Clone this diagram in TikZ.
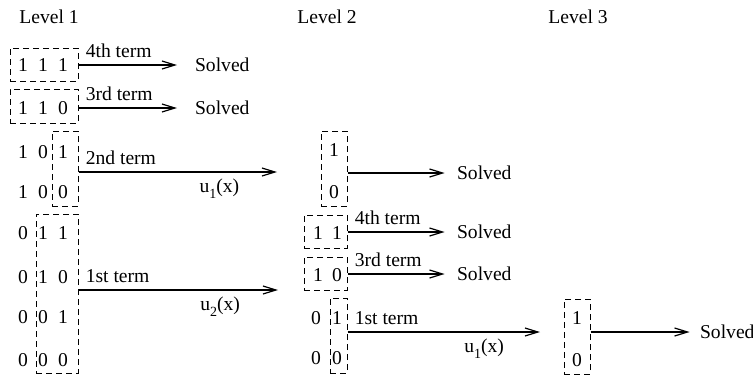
\documentclass[tikz,border=0pt]{standalone}
\usepackage{fontspec}
\setmainfont{Liberation Serif}
\usetikzlibrary{arrows.meta,fit,positioning}
\newcommand{\usub}[1]{u\raisebox{-0.6ex}{\fontsize{7}{8}\selectfont #1}(x)}
\tikzset{every node/.style={font=\fontsize{9.8}{11}\selectfont},
    grp/.style={draw,dash pattern=on 3pt off 2pt,line width=0.5pt,inner sep=0pt},
    arr/.style={line width=0.6pt,-{Straight Barb[length=6.5pt,width=4pt]}},
    lbl/.style={pos=0,above right},
    fn/.style={pos=0.71,below},
    solved/.style={anchor=west}}

\begin{document}
\begin{tikzpicture}[x=0.5pt,y=-0.5pt]
            \useasboundingbox (0,0) rectangle (753,377);
            \node (lv1) at (49,17) {Level 1};
            \node (lv2) at (327,17) {Level 2};
            \node (lv3) at (578,17) {Level 3};
            \foreach \r/\y/\a/\b/\c in {1/65/1/1/1,2/108/1/1/0,3/152/1/0/1,4/192/1/0/0,
                5/233/0/1/1,6/277/0/1/0,7/317/0/0/1,8/360/0/0/0} {
                \node (a\r) at (23,\y) {\a};
                \node (b\r) at (43,\y) {\b};
                \node (c\r) at (63,\y) {\c};
            }
            \node[grp,fit={(10,48) (78,81)}] (b111) {};
            \node[grp,fit={(10,89) (78,123)}] (b110) {};
            \node[grp,fit={(52,131) (78,206)}] (b1xx) {};
            \node[grp,fit={(36,214) (78,373)}] (b0xx) {};
            \node[solved] (s1) at (188,65) {Solved};
            \node[solved] (s2) at (188,108) {Solved};
            \coordinate (e2) at (277,172);
            \coordinate (e1) at (278,290);
            \draw[arr,shorten >=5.5pt] (b111.east |- s1) -- (s1.west) node[lbl]{4th term};
            \draw[arr,shorten >=5.5pt] (b110.east |- s2) -- (s2.west) node[lbl]{3rd term};
            \draw[arr] (b1xx.east |- e2) -- (e2) node[lbl]{2nd term} node[fn]{\usub{1}};
            \draw[arr] (b0xx.east |- e1) -- (e1) node[lbl]{1st term} node[fn]{\usub{2}};
            \node (p1) at (334,150) {1};
            \node (p0) at (334,192) {0};
            \node (q1) at (318,233) {1};
            \node (q2) at (337,233) {1};
            \node (r1) at (318,275) {1};
            \node (r2) at (337,275) {0};
            \node (t1) at (316,318) {0};
            \node (t2) at (337,318) {1};
            \node (u1) at (316,358) {0};
            \node (u2) at (337,358) {0};
            \node[grp,fit={(321,131) (347,206)}] (c10) {};
            \node[grp,fit={(304,215) (347,248)}] (c11) {};
            \node[grp,fit={(304,257) (347,290)}] (c1y) {};
            \node[grp,fit={(330,298) (347,373)}] (cx) {};
            \node[solved] (s3) at (450,173) {Solved};
            \node[solved] (s4) at (450,232) {Solved};
            \node[solved] (s5) at (450,274) {Solved};
            \coordinate (e3) at (540,332);
            \draw[arr,shorten >=2.7pt] (c10.east |- s3) -- (s3.west);
            \draw[arr,shorten >=2.7pt] (c11.east |- s4) -- (s4.west) node[lbl]{4th term};
            \draw[arr,shorten >=2.7pt] (c1y.east |- s5) -- (s5.west) node[lbl]{3rd term};
            \draw[arr] (cx.east |- e3) -- (e3) node[lbl]{1st term} node[fn]{\usub{1}};
            \node (v1) at (577,318) {1};
            \node (v0) at (577,360) {0};
            \node[grp,fit={(564,299) (590,374)}] (d10) {};
            \node[solved] (s6) at (693,332) {Solved};
            \draw[arr,shorten >=1.7pt] (d10.east |- s6) -- (s6.west);
        \end{tikzpicture}
\end{document}
